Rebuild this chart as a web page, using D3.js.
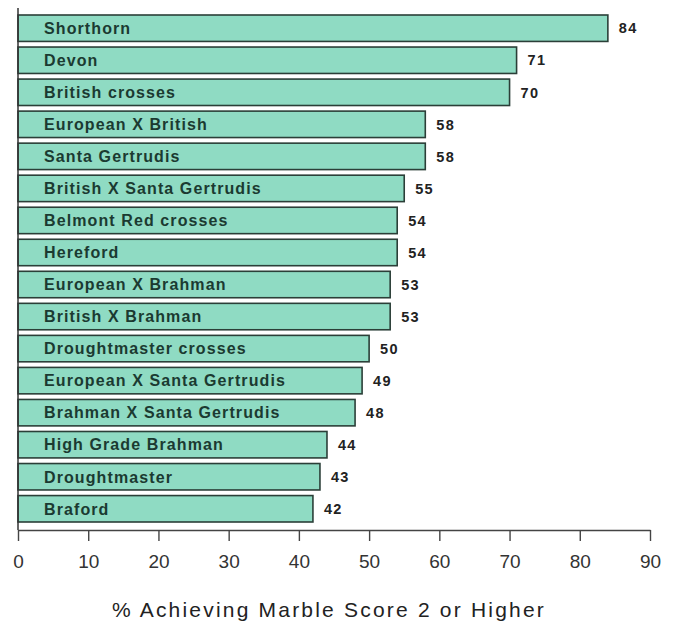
<!DOCTYPE html>
<html>
<head>
<meta charset="utf-8">
<script src="https://cdn.jsdelivr.net/npm/d3@7"></script>
<style>
  html, body { margin: 0; padding: 0; background: #fff; }
  svg { display: block; font-family: "Liberation Sans", Arial, Helvetica, sans-serif; }
</style>
</head>
<body>
<svg id="chart" width="675" height="623"></svg>
<script>
// Breeds, top to bottom
const breeds = [
  "Shorthorn", "Devon", "British crosses", "European X British",
  "Santa Gertrudis", "British X Santa Gertrudis", "Belmont Red crosses",
  "Hereford", "European X Brahman", "British X Brahman",
  "Droughtmaster crosses", "European X Santa Gertrudis",
  "Brahman X Santa Gertrudis", "High Grade Brahman", "Droughtmaster", "Braford"
];
// % achieving marble score 2 or higher
const pctMarble = [84, 71, 70, 58, 58, 55, 54, 54, 53, 53, 50, 49, 48, 44, 43, 42];
const xTicks = [0, 10, 20, 30, 40, 50, 60, 70, 80, 90];
const xTitle = "% Achieving Marble Score 2 or Higher";

const data = breeds.map((b, i) => ({ breed: b, value: pctMarble[i] }));

const svg = d3.select("#chart");
const left = 18, right = 650, axisY = 530;

const x = d3.scaleLinear().domain([0, 90]).range([left, right]);
const y = d3.scaleBand()
  .domain(breeds)
  .range([12.2, 524.8])
  .paddingInner(0.175)
  .paddingOuter(0.0875);

const ink = "#1b3a31";

// bars
svg.append("g").selectAll("rect")
  .data(data).join("rect")
  .attr("x", x(0))
  .attr("y", d => y(d.breed))
  .attr("width", d => x(d.value) - x(0))
  .attr("height", y.bandwidth())
  .attr("fill", "#8fdbc3")
  .attr("stroke", "#2b3f38")
  .attr("stroke-width", 1.6);

// breed names inside bars
svg.append("g").selectAll("text")
  .data(data).join("text")
  .attr("x", 44)
  .attr("y", d => y(d.breed) + y.bandwidth() / 2)
  .attr("dy", "0.36em")
  .attr("font-size", 16)
  .attr("letter-spacing", 1.1)
  .attr("font-weight", "bold")
  .attr("fill", ink)
  .text(d => d.breed);

// value labels
svg.append("g").selectAll("text")
  .data(data).join("text")
  .attr("x", d => x(d.value) + 11)
  .attr("y", d => y(d.breed) + y.bandwidth() / 2)
  .attr("dy", "0.36em")
  .attr("font-size", 14.5)
  .attr("letter-spacing", 1.3)
  .attr("font-weight", "bold")
  .attr("fill", "#222")
  .text(d => d.value);

// left baseline
svg.append("line")
  .attr("x1", left).attr("x2", left)
  .attr("y1", 8).attr("y2", axisY)
  .attr("stroke", "#333").attr("stroke-width", 1.5);

// x axis
const axis = d3.axisBottom(x).tickValues(xTicks).tickSize(11).tickPadding(14).tickSizeOuter(0);
const gx = svg.append("g").attr("transform", `translate(0,${axisY})`).call(axis);
gx.select(".domain").attr("stroke", "#444").attr("stroke-width", 1.4);
gx.selectAll(".tick line").attr("stroke", "#444").attr("stroke-width", 1.4);
gx.selectAll(".tick text")
  .attr("font-size", 19)
  .attr("font-family", "Liberation Sans, Arial, sans-serif")
  .attr("fill", "#333");

// axis title
svg.append("text")
  .attr("x", 329)
  .attr("y", 617)
  .attr("text-anchor", "middle")
  .attr("font-size", 21)
  .attr("letter-spacing", 2.2)
  .attr("fill", "#222")
  .text(xTitle);
</script>
</body>
</html>
